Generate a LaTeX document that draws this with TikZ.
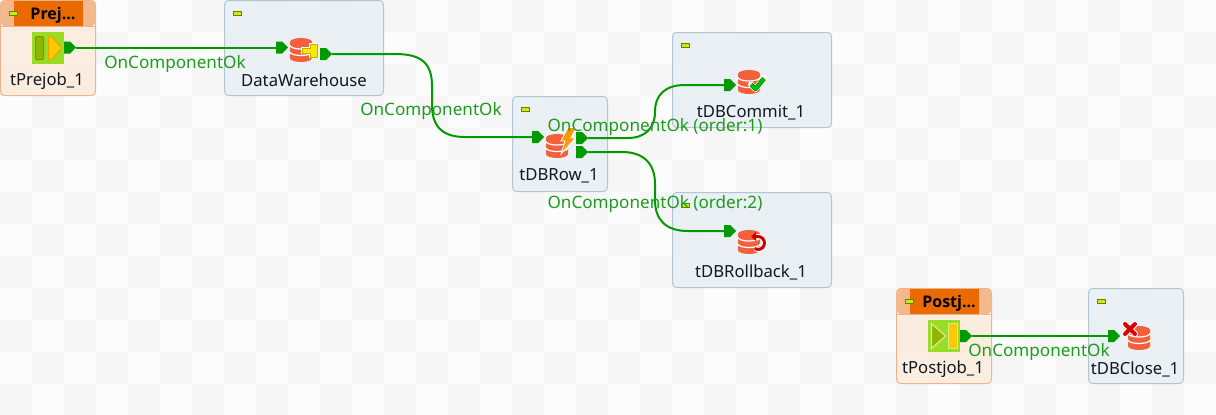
\documentclass[tikz,border=0pt]{standalone}
\usepackage{fontspec}
\setmainfont{Noto Sans}
\newfontfamily\headfont{Open Sans}
\definecolor{tileA}{HTML}{FCFCFC}
\definecolor{tileB}{HTML}{F6F6F6}
\definecolor{blueFill}{HTML}{E7EEF3}
\definecolor{blueEdge}{HTML}{B0C6D6}
\definecolor{orangeFill}{HTML}{FBEBDA}
\definecolor{orangeEdge}{HTML}{F0B488}
\definecolor{orangeHead}{HTML}{E86A00}
\definecolor{orangeSide}{HTML}{F4B88E}
\definecolor{linkGreen}{HTML}{009A00}
\definecolor{labelGreen}{HTML}{1E9A1E}
\definecolor{dbRed}{HTML}{F2603C}
\definecolor{inkDark}{HTML}{101820}
\definecolor{minusFill}{HTML}{C8F000}
\definecolor{minusEdge}{HTML}{6E7A10}
\definecolor{startGreen}{HTML}{9ADB24}
\definecolor{startOlive}{HTML}{8DB800}
\definecolor{startOliveEdge}{HTML}{6F9900}
\definecolor{startYellow}{HTML}{FFC800}
\definecolor{startYellowEdge}{HTML}{F0A000}
\definecolor{startGlow}{HTML}{D4F08A}
\tikzset{
  x=1pt,y=-1pt,
  compbox/.style={draw=blueEdge,fill=blueFill,fill opacity=.8,line width=1pt,rounded corners=4pt},
  jobbox/.style={draw=orangeEdge,fill=orangeFill,fill opacity=.8,line width=1pt,rounded corners=4pt},
  complabel/.style={text=inkDark,font=\fontsize{16.7}{20}\selectfont,inner sep=0pt,anchor=center},
  headlabel/.style={text=black,font=\headfont\fontsize{16}{20}\selectfont\bfseries,inner sep=0pt,anchor=center},
  linklabel/.style={text=labelGreen,font=\fontsize{17.1}{20}\selectfont,inner sep=0pt,anchor=center},
  link/.style={draw=linkGreen,line width=2pt},
}
\newcommand{\minusmark}[2]{\draw[fill=minusFill,draw=minusEdge,line width=.8pt] (#1-4,#2-2) rectangle (#1+4,#2+2);}
\newcommand{\portmark}[3]{\coordinate (#1) at (#2,#3);\fill[linkGreen] (#2-12,#3-6) -- (#2-6,#3-6) -- (#2,#3) -- (#2-6,#3+6) -- (#2-12,#3+6) -- cycle;}
\newcommand{\inmark}[3]{\coordinate (#1) at (#2,#3);\fill[linkGreen] (#2,#3-6) -- (#2+6,#3-6) -- (#2+12,#3) -- (#2+6,#3+6) -- (#2,#3+6) -- cycle;}
\newcommand{\dbicon}[2]{%
  \begin{scope}[shift={(#1,#2)}]
  \fill[dbRed] (-11,-8) -- (-11,8) arc[x radius=11,y radius=4,start angle=180,end angle=0] -- (11,-8) -- cycle;
  \fill[dbRed] (0,-8) ellipse [x radius=11,y radius=4];
  \draw[white,line width=1.2pt] (-11,-4.5) arc[x radius=11,y radius=3.5,start angle=180,end angle=0];
  \draw[white,line width=1.2pt] (-11,2) arc[x radius=11,y radius=3.5,start angle=180,end angle=0];
  \end{scope}}
\begin{document}
\begin{tikzpicture}
\useasboundingbox (0,0) rectangle (1216,415);
\fill[tileA] (0,0) rectangle (1216,415);
\foreach \c in {0,...,38}{\foreach \r in {0,...,12}{
  \pgfmathparse{int(mod(\c+\r,2))}
  \ifnum\pgfmathresult=0 \fill[tileB] (\c*32,\r*32) rectangle (\c*32+32,\r*32+32);\fi
}}
% component boxes
\draw[jobbox] (0.5,0.5) rectangle (95.5,95.5);
\fill[orangeSide,rounded corners=4pt] (1,1) rectangle (95,26);
\fill[orangeHead] (14,1) rectangle (83,26);
\draw[orangeEdge,line width=1pt] (1,26.5) -- (95,26.5);
\draw[compbox] (224.5,0.5) rectangle (383.5,95.5);
\draw[compbox] (512.5,96.5) rectangle (607.5,191.5);
\draw[compbox] (672.5,32.5) rectangle (831.5,127.5);
\draw[compbox] (672.5,192.5) rectangle (831.5,287.5);
\draw[jobbox] (896.5,288.5) rectangle (991.5,383.5);
\fill[orangeSide,rounded corners=4pt] (897,289) rectangle (991,314);
\fill[orangeHead] (910,289) rectangle (979,314);
\draw[orangeEdge,line width=1pt] (897,314.5) -- (991,314.5);
\draw[compbox] (1088.5,288.5) rectangle (1183.5,383.5);
% collapse marks
\minusmark{13}{13}\minusmark{237.5}{13}\minusmark{525}{109}\minusmark{685}{45}\minusmark{685}{205}\minusmark{909}{301}\minusmark{1101}{301}
% start job icons
\fill[startGreen] (32,32) rectangle (64,64);
\draw[fill=startOlive,draw=startOliveEdge,line width=1pt,rounded corners=1pt] (35.5,36.5) rectangle (43.5,59.5);
\draw[fill=startYellow,draw=startYellowEdge,line width=1pt,rounded corners=1pt] (48.5,36.5) -- (52,36.5) -- (61.5,48) -- (52,59.5) -- (48.5,59.5) -- cycle;
\fill[startGreen] (928,320) rectangle (960,352);
\draw[fill=startOlive,draw=startGlow,line width=1.2pt] (931.5,323.5) -- (945.5,336) -- (931.5,348.5) -- cycle;
\draw[fill=startYellow,draw=startGlow,line width=1.2pt] (948.5,323.5) rectangle (957.5,348.5);
% database icons
\dbicon{301}{50}
\dbicon{557}{146}
\dbicon{749}{82}
\dbicon{749}{242}
\dbicon{1139}{338}
% key
\draw[white,line width=2pt,fill=white] (302,48) -- (310,48) -- (310,44) -- (317,44) -- (318,57) -- (310,57) -- (310,53) -- (302,53) -- cycle;
\draw[fill=yellow!90!orange,draw=olive!60!yellow,line width=.8pt] (302,48) -- (310,48) -- (310,44.5) -- (317,44.5) -- (317,57) -- (310,57) -- (310,53) -- (302,53) -- cycle;
% lightning
\draw[fill=orange!80!yellow,draw=white,line width=.8pt] (568,127.5) -- (576,127.5) -- (571,138) -- (575.5,138) -- (561,154) -- (565,141) -- (561,141) -- cycle;
% check mark
\draw[white,line width=6pt,line cap=round,line join=round] (751,84.5) -- (755.5,89) -- (764,78.5);
\draw[green!55!black,line width=4.6pt,line join=round] (751,84.5) -- (755.5,89) -- (764,78.5);
\draw[green!75!black,line width=3pt,line join=round] (751,84.5) -- (755.5,89) -- (764,78.5);
% rollback arrow
\draw[white,line width=5pt] (755,236.5) -- (758,236.5) arc[radius=6.5,start angle=-90,end angle=120];
\draw[red!80!black,line width=3pt] (755,236.5) -- (758,236.5) arc[radius=6.5,start angle=-90,end angle=120];
\fill[red!80!black] (751,236.5) -- (756,232) -- (756,241) -- cycle;
% close mark
\draw[white,line width=6pt,line cap=round] (1125,324) -- (1135,334) (1135,324) -- (1125,334);
\draw[red!85!black,line width=4pt,line cap=round] (1125,324) -- (1135,334) (1135,324) -- (1125,334);
% ports
\portmark{a1}{76}{47.5}
\inmark{a2}{276}{47.5}
\portmark{b1}{332}{54}
\inmark{b2}{532}{137}
\portmark{c1}{588}{138}
\inmark{c2}{724}{85}
\portmark{d1}{588}{152}
\inmark{d2}{724}{231}
\portmark{e1}{972}{336}
\inmark{e2}{1108}{336}
% connectors
\draw[link] (a1) -- (a2);
\draw[link] (b1) -- (395,54) .. controls (420,54) and (432,62) .. (432,86) -- (432,105) .. controls (432,128) and (444,137) .. (465,137) -- (b2);
\draw[link] (c1) -- (628,138) .. controls (645,138) and (655,128) .. (655,112) .. controls (655,95) and (665,85) .. (685,85) -- (c2);
\draw[link] (d1) -- (622,152) .. controls (644,152) and (655,164) .. (655,184) -- (655,200) .. controls (655,220) and (666,231) .. (688,231) -- (d2);
\draw[link] (e1) -- (e2);
% texts
\node[headlabel] (h1) at (53,15) {Prej...};
\node[headlabel] (h2) at (949,303) {Postj...};
\node[complabel] (n1) at (47,81) {tPrejob\_1};
\node[complabel] (n2) at (304,80) {DataWarehouse};
\node[complabel] (n3) at (559,176) {tDBRow\_1};
\node[complabel] (n4) at (751,113) {tDBCommit\_1};
\node[complabel] (n5) at (751,272) {tDBRollback\_1};
\node[complabel] (n6) at (943,369) {tPostjob\_1};
\node[complabel] (n7) at (1135,369) {tDBClose\_1};
\node[linklabel] (l1) at (175,64) {OnComponentOk};
\node[linklabel] (l2) at (431,111) {OnComponentOk};
\node[linklabel] (l3) at (655,127) {OnComponentOk (order:1)};
\node[linklabel] (l4) at (655,204) {OnComponentOk (order:2)};
\node[linklabel] (l5) at (1039,352) {OnComponentOk};
\end{tikzpicture}
\end{document}
